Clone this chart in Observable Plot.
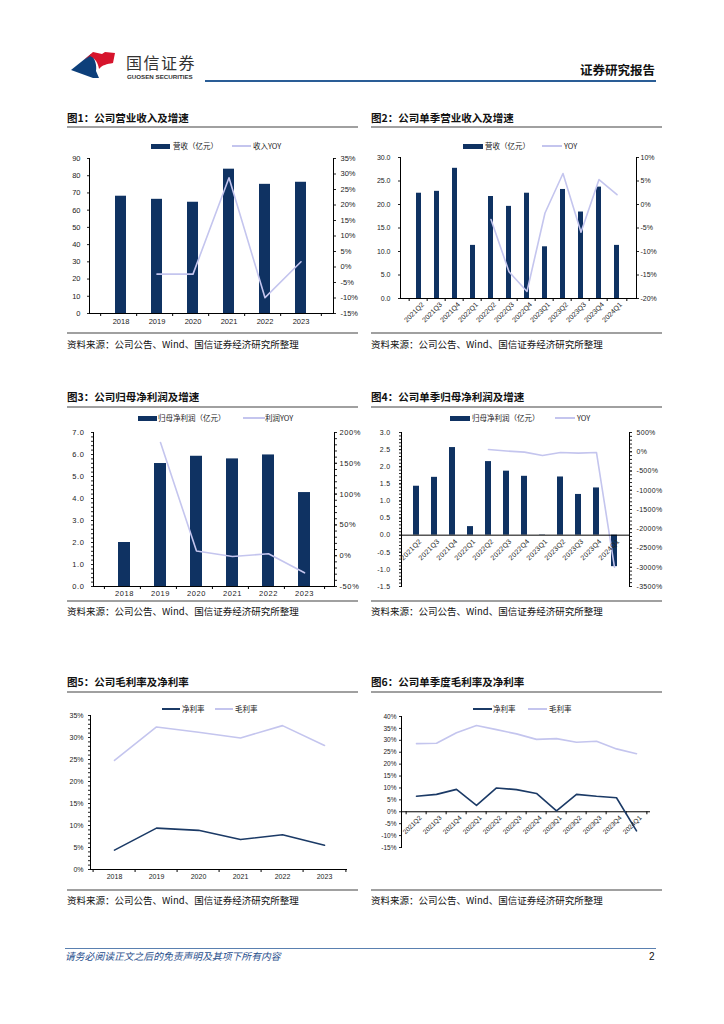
<!DOCTYPE html>
<html><head><meta charset="utf-8">
<script src="https://cdn.jsdelivr.net/npm/d3@7"></script>
<script src="https://cdn.jsdelivr.net/npm/@observablehq/plot@0.6"></script>
<style>
body{margin:0;background:#fff;}
#page{position:relative;width:724px;height:1024px;overflow:hidden;background:#fff;font-family:"Noto Sans CJK SC",sans-serif;}
#page svg{overflow:visible;}
</style></head><body><div id="page"></div>
<script>
// ---------- data ----------
const years = ["2018","2019","2020","2021","2022","2023"];
const quarters = ["2021Q2","2021Q3","2021Q4","2022Q1","2022Q2","2022Q3","2022Q4","2023Q1","2023Q2","2023Q3","2023Q4","2024Q1"];
const revenue = [68.1, 66.3, 64.6, 83.8, 75.0, 76.2];
const revenueYoY = [null, -2.3, -2.3, 28.8, -9.9, 1.7];
const qRevenue = [22.4, 22.8, 27.7, 11.3, 21.7, 19.6, 22.4, 11.0, 23.2, 18.4, 23.7, 11.3];
const qRevenueYoY = [null, null, null, null, -3.2, -14.3, -18.5, -1.8, 6.6, -5.9, 5.3, 2.1];
const netProfit = [2.0, 5.59, 5.92, 5.80, 5.98, 4.27];
const netProfitYoY = [null, 183.8, 7.5, -1.2, 3.1, -27.8];
const qNetProfit = [1.43, 1.69, 2.56, 0.25, 2.15, 1.87, 1.72, 0.01, 1.70, 1.19, 1.38, -0.92];
const qNetProfitYoY = [null, null, null, null, 60, 20, -10, -96, -21, -36, -20, -3000];
const grossMargin = [24.8, 32.4, 31.2, 29.9, 32.7, 28.2];
const netMargin = [4.4, 9.4, 8.9, 6.8, 7.9, 5.5];
const qGrossMargin = [28.6, 28.8, 33.2, 36.2, 34.5, 32.7, 30.4, 30.7, 29.2, 29.6, 26.4, 24.4];
const qNetMargin = [6.5, 7.3, 9.4, 2.7, 10.0, 9.3, 7.7, 0.4, 7.3, 6.5, 5.9, -8.0];

const titles = ["图1：公司营业收入及增速","图2：公司单季营业收入及增速","图3：公司归母净利润及增速","图4：公司单季归母净利润及增速","图5：公司毛利率及净利率","图6：公司单季度毛利率及净利率"];
const sourceText = "资料来源：公司公告、Wind、国信证券经济研究所整理";

// ---------- styles ----------
const NAVY = "#0f3262", LAV = "#c4c5ee", DARK = "#1b3a66";
const NUM_FONT = '"Liberation Sans", Arial, sans-serif';
const page = document.getElementById("page");

function put(el, x, y){ el.style.position="absolute"; el.style.left=x+"px"; el.style.top=y+"px"; page.appendChild(el); return el; }
function div(html, x, y, css){ const d=document.createElement("div"); d.style.cssText=css||""; d.style.whiteSpace="nowrap"; d.innerHTML=html; return put(d,x,y); }
function rng(lo, hi, step){ const n=Math.round((hi-lo)/step); return d3.range(n+1).map(i=>+(lo+i*step).toFixed(6)); }

function legend(cy, items){
  for (const it of items){
    if (it.kind==="bar") div("", it.x, cy-2.5, `width:${it.w}px;height:5px;background:${it.color}`);
    else div("", it.x, cy-0.75, `width:${it.w}px;height:1.5px;background:${it.color}`);
    div(it.label, it.tx, cy-6, "font-size:7.5px;line-height:12px;color:#222");
  }
}

function section(x, titleY, topLine, botLine, capY, title){
  div(title, x, titleY-7, "font-size:10.5px;line-height:14px;color:#111;font-weight:bold");
  div("", x, topLine, "width:291px;height:2px;background:#a0a0a0");
  div("", x, botLine, "width:291px;height:2px;background:#a0a0a0");
  div(sourceText, x, capY-7, "font-size:9.5px;line-height:14px;color:#111");
}

function dual(c){
  const [l0,l1]=c.L.domain, [r0,r1]=c.R.domain;
  const map = v => l0 + (v-r0)/(r1-r0)*(l1-l0);
  const inv = y => r0 + (y-l0)/(l1-l0)*(r1-r0);
  const rows = c.cats.map((k,i)=>({k, b:c.bars[i], v:c.lines[i]}));
  const step = (c.width-c.ml-c.mr)/c.cats.length;
  const last = c.cats[c.cats.length-1];
  const axisY0 = c.zero ? 0 : l0;
  const marks = [
    Plot.barY(rows, {x:"k", y:"b", fill:NAVY}),
    Plot.line(rows.filter(d=>d.v!=null), {x:"k", y:d=>map(d.v), stroke:LAV, strokeWidth:1.6}),
    Plot.frame({anchor:"left", stroke:"#000"}),
    Plot.frame({anchor:"right", stroke:"#000"}),
    Plot.axisY(rng(l0,l1,c.L.step), {anchor:"left", tickSize:2, tickPadding:c.L.pad, tickFormat:c.L.fmt, label:null}),
    Plot.axisY(rng(r0,r1,c.R.step).map(map), {anchor:"right", tickSize:2, tickPadding:c.R.pad, tickFormat:y=>c.R.fmt(Math.round(inv(y))), label:null}),
    Plot.ruleY([axisY0], {stroke:"#000"})
  ];
  if (!c.zero) marks.push(
    Plot.ruleX(c.cats, {x:d=>d, y1:axisY0, y2:axisY0, dx:-step/2, insetBottom:-3, stroke:"#000"}),
    Plot.ruleX([last], {x:d=>d, y1:axisY0, y2:axisY0, dx:step/2, insetBottom:-3, stroke:"#000"}));
  if (c.L.minor) marks.push(Plot.axisY(rng(l0,l1,c.L.minor), {anchor:"left", tickSize:2, tickFormat:()=>"", label:null}));
  if (c.R.minor) marks.push(Plot.axisY(rng(r0,r1,c.R.minor).map(map), {anchor:"right", tickSize:2, tickFormat:()=>"", label:null}));
  if (c.xMode==="bottom") marks.push(Plot.axisX({tickSize:0, tickPadding:c.xPad, label:null}));
  else marks.push(Plot.text(c.cats, {x:d=>d, y:axisY0, text:d=>d, rotate:-45, textAnchor:"end", dx:4, dy:5, fill:"#222"}));
  const svg = Plot.plot({
    width:c.width, height:c.height, marginLeft:c.ml, marginRight:c.mr, marginTop:c.mt, marginBottom:c.mb,
    style:{fontSize:c.fs+"px", fontFamily:NUM_FONT, color:"#222", background:"transparent", letterSpacing:(c.ls||0)+"px"},
    x:{domain:c.cats, padding:c.padding, axis:null, label:null},
    y:{domain:c.L.domain, axis:null, label:null},
    marks
  });
  put(svg, c.left, c.top);
}

function linesChart(c){
  const rows = c.cats.map((k,i)=>({k, n:c.net[i], g:c.gross[i]}));
  const step = (c.width-c.ml-c.mr)/c.cats.length;
  const last = c.cats[c.cats.length-1];
  const [l0,l1] = c.domain;
  const axisY0 = c.zero ? 0 : l0;
  const marks = [
    Plot.frame({anchor:"left", stroke:"#000"}),
    Plot.ruleY([axisY0], {stroke:"#000"}),
    Plot.axisY(rng(l0,l1,c.step), {anchor:"left", tickSize:2, tickPadding:c.pad, tickFormat:d=>d+"%", label:null}),
    Plot.ruleX(c.cats, {x:d=>d, y1:axisY0, y2:axisY0, dx:-step/2, insetBottom:-3, stroke:"#000"}),
    Plot.ruleX([last], {x:d=>d, y1:axisY0, y2:axisY0, dx:step/2, insetBottom:-3, stroke:"#000"}),
    Plot.line(rows, {x:"k", y:"g", stroke:LAV, strokeWidth:1.6}),
    Plot.line(rows, {x:"k", y:"n", stroke:DARK, strokeWidth:1.6})
  ];
  if (c.minor) marks.push(Plot.axisY(rng(l0,l1,c.minor), {anchor:"left", tickSize:2, tickFormat:()=>"", label:null}));
  if (c.xMode==="bottom") marks.push(Plot.axisX({tickSize:0, tickPadding:c.xPad, label:null}));
  else marks.push(Plot.text(c.cats, {x:d=>d, y:axisY0, text:d=>d, rotate:-45, textAnchor:"end", dx:4, dy:5, fill:"#222"}));
  const svg = Plot.plot({
    width:c.width, height:c.height, marginLeft:c.ml, marginRight:c.mr, marginTop:c.mt, marginBottom:c.mb,
    style:{fontSize:c.fs+"px", fontFamily:NUM_FONT, color:"#222", background:"transparent"},
    x:{domain:c.cats, type:"point", padding:0.5, axis:null, label:null},
    y:{domain:c.domain, axis:null, label:null},
    marks
  });
  put(svg, c.left, c.top);
}

// ---------- header ----------
const logo = document.createElementNS("http://www.w3.org/2000/svg","svg");
logo.setAttribute("width","50"); logo.setAttribute("height","32");
logo.innerHTML = `<path d="M3 20 L23 4 C27 9 29 15 28 21 L31 28 L25 28 Z" fill="#0d3f7a"/>
<path d="M16 10 L25 2 L34 4 L37 2 L47 3 L45 13 C39 14 34 15 31 19 C30 13 27 8 22 6 Z" fill="#d6142c"/>`;
put(logo, 68, 50);
div("国信证券", 126, 53, "font-size:16px;line-height:18px;color:#333;letter-spacing:1.5px");
div("GUOSEN SECURITIES", 127, 73, `font-size:6.2px;line-height:8px;color:#333;font-weight:bold;font-family:${NUM_FONT}`);
div("证券研究报告", 580, 62, "font-size:12.5px;line-height:16px;color:#111;font-weight:bold");
div("", 205, 80, "width:451px;height:2px;background:#2a5d96");

// ---------- footer ----------
div("", 65, 948, "width:591px;height:1px;background:#5a80b0");
div("请务必阅读正文之后的免责声明及其项下所有内容", 65, 950, "font-size:9.8px;line-height:13px;color:#1f4e8c;font-style:italic");
div("2", 649, 950, `font-size:10px;line-height:13px;color:#111;font-family:${NUM_FONT}`);

// ---------- sections ----------
section(67, 118, 126, 332, 344, titles[0]);
section(371, 118, 126, 332, 344, titles[1]);
section(67, 397, 406, 600, 611, titles[2]);
section(371, 397, 406, 600, 611, titles[3]);
section(67, 682, 691, 889, 900, titles[4]);
section(371, 682, 691, 889, 900, titles[5]);

// ---------- legends ----------
legend(146, [{kind:"bar", color:NAVY, x:151, w:19, tx:173, label:"营收（亿元）"},{kind:"line", color:LAV, x:232, w:19, tx:253, label:"收入YOY"}]);
legend(146, [{kind:"bar", color:NAVY, x:463, w:20, tx:485, label:"营收（亿元）"},{kind:"line", color:LAV, x:542, w:20, tx:564, label:"YOY"}]);
legend(418, [{kind:"bar", color:NAVY, x:138, w:19, tx:158, label:"归母净利润（亿元）"},{kind:"line", color:LAV, x:243, w:22, tx:265, label:"利润YOY"}]);
legend(418, [{kind:"bar", color:NAVY, x:450, w:20, tx:472, label:"归母净利润（亿元）"},{kind:"line", color:LAV, x:555, w:20, tx:577, label:"YOY"}]);
legend(709, [{kind:"line", color:DARK, x:162, w:18, tx:182, label:"净利率"},{kind:"line", color:LAV, x:215, w:18, tx:235, label:"毛利率"}]);
legend(709, [{kind:"line", color:DARK, x:473, w:19, tx:493, label:"净利率"},{kind:"line", color:LAV, x:528, w:19, tx:549, label:"毛利率"}]);

// ---------- charts ----------
dual({cats:years, bars:revenue, lines:revenueYoY,
  L:{domain:[0,90], step:10, fmt:d=>d, pad:7}, R:{domain:[-15,35], step:5, fmt:v=>v+"%", pad:5},
  left:60, top:150, width:300, height:180, ml:29, mr:27, mt:8, mb:17, padding:0.69, xMode:"bottom", xPad:5, fs:7.5});

dual({cats:quarters, bars:qRevenue, lines:qRevenueYoY,
  L:{domain:[0,30], step:5, fmt:d=>d.toFixed(1), pad:8}, R:{domain:[-20,10], step:5, fmt:v=>v+"%", pad:2},
  left:366, top:150, width:300, height:185, ml:34, mr:30, mt:7, mb:37, padding:0.7, xMode:"rot", fs:7});

dual({cats:years, bars:netProfit, lines:netProfitYoY,
  L:{domain:[0,7], step:1, fmt:d=>d.toFixed(1), pad:7, minor:0.2}, R:{domain:[-50,200], step:50, fmt:v=>v+"%", pad:3, minor:10},
  left:60, top:424, width:300, height:178, ml:33, mr:26, mt:8, mb:16, padding:0.67, xMode:"bottom", xPad:4, fs:7.5, ls:0.6});

dual({cats:quarters, bars:qNetProfit, lines:qNetProfitYoY, zero:true,
  L:{domain:[-1.5,3], step:0.5, fmt:d=>d.toFixed(1), pad:9, minor:0.1}, R:{domain:[-3500,500], step:500, fmt:v=>v+"%", pad:5, minor:100},
  left:366, top:424, width:300, height:178, ml:35, mr:37, mt:8, mb:16, padding:0.66, xMode:"rot", fs:7, ls:0.3});

linesChart({cats:years, net:netMargin, gross:grossMargin, domain:[0,35], step:5, pad:5, minor:1,
  left:60, top:707, width:300, height:180, ml:30, mr:13, mt:8, mb:18, xMode:"bottom", xPad:5, fs:7});

linesChart({cats:quarters, net:qNetMargin, gross:qGrossMargin, domain:[-15,40], step:5, pad:3, zero:true,
  left:366, top:708, width:300, height:160, ml:35, mr:16, mt:8, mb:21, xMode:"rot", fs:6.5});
</script></body></html>
